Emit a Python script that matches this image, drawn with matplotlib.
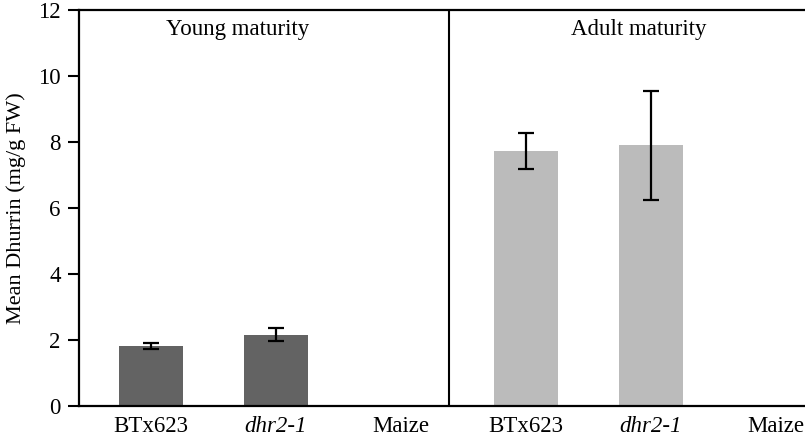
import matplotlib.pyplot as plt
import numpy as np

plt.rcParams['font.family'] = ['Liberation Serif', 'DejaVu Serif']

labels = ['BTx623', 'dhr2-1', 'Maize', 'BTx623', 'dhr2-1', 'Maize']
italic = [False, True, False, False, True, False]
young_mean = [1.82, 2.16]
young_err = [0.09, 0.2]
adult_mean = [7.72, 7.9]
adult_err = [0.55, 1.65]
panels = ['Young maturity', 'Adult maturity']

fig = plt.figure(figsize=(8.05, 4.37), dpi=100)
ax = fig.add_axes([0.098, 0.071, 0.902, 0.906])

x = np.arange(6)
ax.bar(x[:2], young_mean, width=0.51, color='#636363', zorder=2)
ax.bar(x[3:5], adult_mean, width=0.51, color='#bbbbbb', zorder=2)
ax.errorbar(x[:2], young_mean, yerr=young_err, fmt='none', ecolor='black',
            elinewidth=1.6, capsize=5.5, capthick=1.6, zorder=3)
ax.errorbar(x[3:5], adult_mean, yerr=adult_err, fmt='none', ecolor='black',
            elinewidth=1.6, capsize=5.5, capthick=1.6, zorder=3)

ax.axvline(2.385, color='black', lw=1.5)
ax.text(0.69, 11.4, panels[0], ha='center', va='center', fontsize=16.5)
ax.text(3.9, 11.4, panels[1], ha='center', va='center', fontsize=16.5)

ax.set_xlim(-0.576, 5.232)
ax.set_ylim(0, 12)
ax.set_yticks(range(0, 13, 2))
ax.set_xticks(x)
ax.set_xticklabels(labels)
for t, it in zip(ax.get_xticklabels(), italic):
    if it:
        t.set_style('italic')
ax.tick_params(axis='x', length=0, labelsize=16.5, pad=7)
ax.tick_params(axis='y', length=8, width=1.5, labelsize=16.5, pad=5)
ax.set_ylabel('Mean Dhurrin (mg/g FW)', fontsize=16, labelpad=9)

for s in ['left', 'bottom', 'top']:
    ax.spines[s].set_linewidth(1.6)
ax.spines['right'].set_visible(False)

fig.savefig('out.png', dpi=100)
